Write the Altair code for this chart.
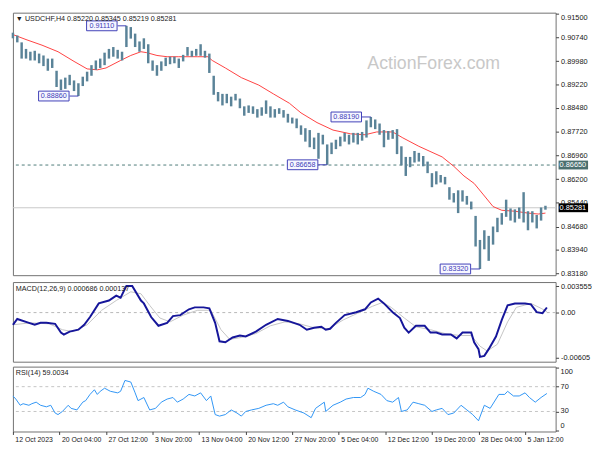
import altair as alt
import pandas as pd

# ---------------- data ----------------
STEP = 3  # bar index step (H4 bars)
hi = [0.9089, 0.9080, 0.9058, 0.9037, 0.9028, 0.9031, 0.9022, 0.9016, 0.9006, 0.9006,
      0.8967, 0.8939, 0.8945, 0.8954, 0.8936, 0.8927, 0.8948, 0.8964, 0.8985, 0.9000,
      0.9006, 0.9025, 0.9037, 0.9043, 0.9034, 0.9028, 0.9111, 0.9107, 0.9086, 0.9061,
      0.9071, 0.9052, 0.9000, 0.8985, 0.8997, 0.9009, 0.9012, 0.9012, 0.9006, 0.9018,
      0.9043, 0.9031, 0.9037, 0.9052, 0.9031, 0.9022, 0.8951, 0.8899, 0.8893, 0.8893,
      0.8884, 0.8893, 0.8878, 0.8853, 0.8856, 0.8853, 0.8844, 0.8850, 0.8872, 0.8853,
      0.8844, 0.8847, 0.8841, 0.8829, 0.8817, 0.8814, 0.8792, 0.8783, 0.8777, 0.8753,
      0.8768, 0.8762, 0.8731, 0.8737, 0.8746, 0.8756, 0.8768, 0.8762, 0.8768, 0.8768,
      0.8771, 0.8808, 0.8819, 0.8811, 0.8798, 0.8777, 0.8774, 0.8777, 0.8780, 0.8725,
      0.8691, 0.8691, 0.8710, 0.8704, 0.8694, 0.8676, 0.8639, 0.8645, 0.8633, 0.8627,
      0.8594, 0.8575, 0.8584, 0.8584, 0.8566, 0.8548, 0.8502, 0.8425, 0.8456, 0.8438,
      0.8468, 0.8496, 0.8511, 0.8554, 0.8526, 0.8523, 0.8529, 0.8578, 0.8517, 0.8517,
      0.8505, 0.8529, 0.85345]
lo = [0.9071, 0.9058, 0.9006, 0.9006, 0.9000, 0.9000, 0.8991, 0.8982, 0.8967, 0.8976,
      0.8915, 0.8905, 0.8909, 0.8921, 0.8902, 0.8886, 0.8918, 0.8933, 0.8951, 0.8970,
      0.8976, 0.8985, 0.9006, 0.9012, 0.9006, 0.9000, 0.9043, 0.9070, 0.9043, 0.9028,
      0.9037, 0.8991, 0.8967, 0.8951, 0.8967, 0.8982, 0.8988, 0.8991, 0.8976, 0.8997,
      0.9015, 0.9012, 0.9015, 0.9015, 0.9009, 0.8960, 0.8890, 0.8869, 0.8856, 0.8863,
      0.8853, 0.8872, 0.8847, 0.8823, 0.8832, 0.8829, 0.8817, 0.8823, 0.8829, 0.8817,
      0.8817, 0.8829, 0.8817, 0.8801, 0.8798, 0.8783, 0.8762, 0.8740, 0.8722, 0.8716,
      0.8685, 0.8731, 0.86658, 0.8700, 0.8716, 0.8725, 0.8740, 0.8731, 0.8737, 0.8731,
      0.8743, 0.8753, 0.8786, 0.8780, 0.8762, 0.8722, 0.8746, 0.8749, 0.8700, 0.8664,
      0.8630, 0.8658, 0.8673, 0.8676, 0.8661, 0.8639, 0.8594, 0.8603, 0.8609, 0.8603,
      0.8554, 0.8545, 0.8511, 0.8548, 0.8538, 0.8523, 0.8404, 0.8332, 0.8395, 0.8358,
      0.8410, 0.8450, 0.8474, 0.8499, 0.8487, 0.8481, 0.8493, 0.8481, 0.8456, 0.8481,
      0.8462, 0.8487, 0.85219]
bar_idx = [i * STEP for i in range(len(hi))]

sma_idx = [0, 9, 20, 31, 42, 51, 58, 64, 74, 81, 88, 92, 99, 106, 114, 127, 134, 137, 146, 157,
           169, 179, 190, 198, 209, 220, 232, 242, 250, 261, 268, 279, 295, 303, 310, 317, 323,
           330, 336, 345, 354, 361, 366]
sma_val = [0.9083, 0.9067, 0.9049, 0.9028, 0.8997, 0.8973, 0.8970, 0.8976, 0.9000, 0.9016,
           0.9028, 0.9025, 0.9016, 0.9012, 0.9012, 0.9012, 0.9012, 0.9000, 0.8976, 0.8945,
           0.8921, 0.8893, 0.8863, 0.8832, 0.8801, 0.8777, 0.8765, 0.8762, 0.8771, 0.8771,
           0.8752, 0.8725, 0.8691, 0.8661, 0.8630, 0.8606, 0.8572, 0.8532, 0.8520, 0.8517,
           0.8511, 0.8508, 0.8511]

ann_idx = [78, 45, 246, 216, 321]
ann_price = [0.9111, 0.8886, 0.8819, 0.86658, 0.8332]
ann_text = ["0.91110", "0.88860", "0.88190", "0.86658", "0.83320"]

level_price = 0.8665
last_close = 0.85281
tag_price = [0.8665, 0.85281]
tag_text = ["0.86650", "0.85281"]
tag_fill = ["#4b6f6f", "#000000"]

price_ticks = [0.915, 0.9074, 0.8998, 0.8922, 0.8848, 0.8772, 0.8696, 0.862, 0.8544,
               0.8468, 0.8394, 0.8318]

macd_idx = [0, 3, 11, 15, 19, 23, 29, 33, 35, 39, 45, 49, 53, 59, 66, 71, 74, 78, 82, 88, 90,
            95, 100, 106, 110, 115, 121, 125, 131, 135, 139, 142, 146, 151, 156, 160, 167, 174,
            182, 189, 197, 202, 207, 212, 215, 218, 222, 228, 236, 242, 246, 251, 255, 261,
            266, 269, 272, 277, 283, 287, 291, 295, 301, 305, 309, 315, 317, 320, 321, 324,
            327, 332, 336, 340, 345, 352, 356, 360, 364, 367]
macd_val = [-0.00164, -0.00086, -0.00138, -0.00164, -0.00138, -0.00138, -0.00151, -0.00269,
            -0.00295, -0.00256, -0.00230, -0.00164, -0.00060, 0.00123, 0.00162, 0.00227,
            0.00201, 0.00358, 0.00358, 0.00162, 0.00123, -0.00060, -0.00177, -0.00138,
            -0.00047, -0.00034, 0.00044, 0.00070, 0.00070, 0.00057, -0.00138, -0.00386,
            -0.00399, -0.00334, -0.00308, -0.00321, -0.00256, -0.00164, -0.00086, -0.00112,
            -0.00164, -0.00230, -0.00204, -0.00191, -0.00230, -0.00217, -0.00138, -0.00034,
            0.00005, 0.00044, 0.00136, 0.00188, 0.00123, 0.00005, -0.00073, -0.00204,
            -0.00269, -0.00177, -0.00177, -0.00269, -0.00269, -0.00295, -0.00295, -0.00347,
            -0.00269, -0.00269, -0.00399, -0.00491, -0.00595, -0.00582, -0.00491, -0.00321,
            -0.00099, 0.00097, 0.00123, 0.00123, 0.00110, 0.00005, -0.00008, 0.000686]

sig_idx = [0, 12, 25, 34, 41, 51, 61, 71, 81, 88, 94, 101, 108, 117, 127, 136, 143, 149, 157,
           167, 177, 187, 197, 207, 217, 227, 237, 247, 254, 260, 269, 277, 287, 297, 307, 315,
           321, 326, 333, 340, 346, 356, 363, 367]
sig_val = [-0.00164, -0.00138, -0.00151, -0.00230, -0.00256, -0.00164, 0.00031, 0.00162,
           0.00279, 0.00253, 0.00097, -0.00073, -0.00125, -0.00034, 0.00031, 0.00031,
           -0.00230, -0.00360, -0.00334, -0.00282, -0.00177, -0.00125, -0.00151, -0.00204,
           -0.00217, -0.00099, -0.00008, 0.00084, 0.00136, 0.00070, -0.00073, -0.00191,
           -0.00230, -0.00282, -0.00308, -0.00308, -0.00451, -0.00517, -0.00425, -0.00125,
           0.00070, 0.00123, 0.00057, 0.000137]

rsi_idx = [0, 2, 5, 7, 11, 13, 16, 19, 23, 26, 29, 31, 34, 38, 40, 44, 48, 50, 53, 56, 58, 60,
           63, 67, 72, 74, 77, 81, 84, 86, 90, 94, 98, 102, 106, 110, 113, 117, 121, 125, 129,
           133, 136, 139, 142, 146, 150, 154, 157, 160, 164, 169, 174, 179, 182, 186, 189, 194,
           200, 205, 208, 214, 215, 220, 225, 229, 234, 239, 242, 244, 248, 253, 257, 261, 265,
           267, 271, 275, 279, 283, 288, 291, 295, 299, 303, 308, 312, 316, 320, 322, 324, 328,
           334, 338, 340, 344, 348, 352, 355, 359, 363, 367]
rsi_val = [55, 50, 40, 42.5, 40, 42.5, 45, 40, 37.5, 40, 27.5, 25, 30, 40, 35, 32.5, 45, 47.5,
           57.5, 65, 57.5, 62.5, 67.5, 62.5, 60, 62.5, 80, 77.5, 60, 47.5, 52.5, 32.5, 35, 45,
           50, 52.5, 45, 50, 57.5, 55, 60, 47.5, 55, 25, 22.5, 25, 32.5, 27.5, 22.5, 30, 32.5,
           35, 40, 42.5, 40, 45, 37.5, 32.5, 27.5, 20, 35, 45, 30, 40, 45, 50, 52.5, 52.5, 57.5,
           67.5, 62.5, 57.5, 47.5, 45, 52.5, 30, 32.5, 45, 42.5, 40, 30, 32.5, 35, 25, 27.5,
           40, 32.5, 25, 15, 27.5, 40, 35, 57.5, 57.5, 62.5, 55, 55, 60, 52.5, 45, 52.5, 59.0]
rsi_ticks = [100, 70, 30, 0]
rsi_tick_text = ["100", "70", "30", "0"]

x_tick_idx = [0, 32, 64, 96, 128, 160, 192, 224, 256, 288, 320, 352]
x_tick_text = ["12 Oct 2023", "20 Oct 04:00", "27 Oct 12:00", "3 Nov 20:00", "13 Nov 04:00",
               "20 Nov 12:00", "27 Nov 20:00", "5 Dec 04:00", "12 Dec 12:00", "19 Dec 20:00",
               "28 Dec 04:00", "5 Jan 12:00"]

# ---------------- layout / style ----------------
W = 552
H_MAIN = 267
H_MACD = 81
H_RSI = 66
FONT = "Liberation Sans"
BAR = "#5a8398"
ANN = "#4040b8"

BOX_PATH = "M-1.55,-0.5L1.55,-0.5L1.55,0.5L-1.55,0.5Z"   # 31 x 10 px at size 400
CONN_PATH = "M-0.9,0L0,0"                                # 9 px connector at size 400
TAG_PATH = "M0,-0.45L3,-0.45L3,0.45L0,0.45Z"             # 30 x 9 px at size 400

xscale = alt.Scale(domain=[0, 373], nice=False, zero=False)
yprice = alt.Scale(domain=[0.83121, 0.91531], nice=False, zero=False)


def X(field="idx:Q"):
    return alt.X(field, scale=xscale, axis=None)


price_axis = alt.Axis(orient="right", values=price_ticks, format=".5f", title="",
                      labelFlush=True, labelOverlap=False)


def Yp(field):
    return alt.Y(field, scale=yprice, axis=price_axis)


bars_df = pd.DataFrame({"idx": bar_idx, "hi": hi, "lo": lo})
sma_df = pd.DataFrame({"idx": sma_idx, "v": sma_val})
ann_df = pd.DataFrame({"idx": ann_idx, "p": ann_price, "t": ann_text})
tag_df = pd.DataFrame({"p": tag_price, "t": tag_text, "f": tag_fill})
lvl_df = pd.DataFrame({"p": [level_price]})
cls_df = pd.DataFrame({"p": [last_close]})

cur_line = alt.Chart(cls_df).mark_rule(color="#c8c8c8", strokeWidth=1).encode(
    y=Yp("p:Q"))
lvl_line = alt.Chart(lvl_df).mark_rule(color="#4d7a78", strokeDash=[3, 3], strokeWidth=1).encode(
    y=Yp("p:Q"))
bars = alt.Chart(bars_df).mark_rule(color=BAR, strokeWidth=2.5).encode(
    x=X(), y=Yp("lo:Q"), y2="hi:Q")
sma = alt.Chart(sma_df).mark_line(color="#ff4040", strokeWidth=1).encode(
    x=X(), y=Yp("v:Q"))

ann_conn = alt.Chart(ann_df).mark_point(shape=CONN_PATH, size=400, filled=False, stroke=ANN,
                                        strokeWidth=1, opacity=1).encode(
    x=X(), y=Yp("p:Q"))
ann_box = alt.Chart(ann_df).mark_point(shape=BOX_PATH, size=400, xOffset=-25, filled=True,
                                       fill="#f6f6ff", stroke=ANN, strokeWidth=1,
                                       opacity=1).encode(
    x=X(), y=Yp("p:Q"))
ann_txt = alt.Chart(ann_df).mark_text(dx=-25, font=FONT, fontSize=7.3, color=ANN,
                                      align="center", baseline="middle").encode(
    x=X(), y=Yp("p:Q"), text="t:N")

tag_box = alt.Chart(tag_df).mark_point(shape=TAG_PATH, size=400, filled=True, opacity=1,
                                       strokeWidth=0).encode(
    x=alt.value(W + 3), y=Yp("p:Q"),
    fill=alt.Fill("f:N", scale=None))
tag_txt = alt.Chart(tag_df).mark_text(font=FONT, fontSize=7.5, color="white", align="left",
                                      baseline="middle").encode(
    x=alt.value(W + 4), y=Yp("p:Q"), text="t:N")

title_main = alt.Chart(pd.DataFrame({"t": ["\u25BC USDCHF,H4  0.85220 0.85345 0.85219 0.85281"]})).mark_text(
    font=FONT, fontSize=7.3, color="#202020", align="left", baseline="middle").encode(
    x=alt.value(3), y=alt.value(6), text="t:N")
watermark = alt.Chart(pd.DataFrame({"t": ["ActionForex.com"]})).mark_text(
    font=FONT, fontSize=18, color="#c8c8c8", align="center", baseline="middle").encode(
    x=alt.value(428), y=alt.value(52), text="t:N")

main = alt.layer(cur_line, lvl_line, watermark, sma, bars, ann_conn, ann_box, ann_txt,
                 tag_box, tag_txt, title_main).properties(width=W, height=H_MAIN)

# MACD
ymacd = alt.Scale(domain=[-0.0066, 0.0041], nice=False, zero=False)
macd_axis = alt.Axis(
    orient="right", values=[0.003555, 0.0, -0.00605], title="", labelOverlap=False,
    labelExpr="datum.value == 0 ? '0.00' : (datum.value > 0 ? '0.003555' : '-0.00605')")
macd_df = pd.DataFrame({"idx": macd_idx, "v": macd_val})
sig_df = pd.DataFrame({"idx": sig_idx, "v": sig_val})
zero_line = alt.Chart(pd.DataFrame({"p": [0.0]})).mark_rule(
    color="#b8b8b8", strokeDash=[3, 3], strokeWidth=1).encode(
    y=alt.Y("p:Q", scale=ymacd, axis=macd_axis))
sig_line = alt.Chart(sig_df).mark_line(color="#c4c4c4", strokeWidth=1).encode(
    x=X(), y=alt.Y("v:Q", scale=ymacd, axis=macd_axis))
macd_line = alt.Chart(macd_df).mark_line(color="#16169a", strokeWidth=2).encode(
    x=X(), y=alt.Y("v:Q", scale=ymacd, axis=macd_axis))
macd_title = alt.Chart(pd.DataFrame({"t": ["MACD(12,26,9) 0.000686 0.000137"]})).mark_text(
    font=FONT, fontSize=7.3, color="#202020", align="left", baseline="middle").encode(
    x=alt.value(3), y=alt.value(7), text="t:N")
macd = alt.layer(zero_line, sig_line, macd_line, macd_title).properties(width=W, height=H_MACD)

# RSI
yrsi = alt.Scale(domain=[-2.3, 102.3], nice=False, zero=False)
rsi_axis = alt.Axis(orient="right", values=rsi_ticks, title="", labels=False)
rsi_df = pd.DataFrame({"idx": rsi_idx, "v": rsi_val})
rsi_lab_df = pd.DataFrame({"p": rsi_ticks, "t": rsi_tick_text})
rsi_lv = alt.Chart(pd.DataFrame({"p": [70, 30]})).mark_rule(
    color="#c4c4c4", strokeDash=[3, 3], strokeWidth=1).encode(
    y=alt.Y("p:Q", scale=yrsi, axis=rsi_axis))
rsi_lab_top = alt.Chart(rsi_lab_df).transform_filter("datum.p == 100").mark_text(
    font=FONT, fontSize=7.5, color="#202020", align="left", baseline="top").encode(
    x=alt.value(W + 5), y=alt.Y("p:Q", scale=yrsi, axis=rsi_axis), text="t:N")
rsi_lab_mid = alt.Chart(rsi_lab_df).transform_filter("datum.p > 0 && datum.p < 100").mark_text(
    font=FONT, fontSize=7.5, color="#202020", align="left", baseline="middle").encode(
    x=alt.value(W + 5), y=alt.Y("p:Q", scale=yrsi, axis=rsi_axis), text="t:N")
rsi_lab_bot = alt.Chart(rsi_lab_df).transform_filter("datum.p == 0").mark_text(
    font=FONT, fontSize=7.5, color="#202020", align="left", baseline="bottom").encode(
    x=alt.value(W + 5), y=alt.Y("p:Q", scale=yrsi, axis=rsi_axis), text="t:N")
label_expr = " : ".join(
    "datum.value == %d ? '%s'" % (v, s) for v, s in zip(x_tick_idx, x_tick_text)) + " : ''"
rsi_line = alt.Chart(rsi_df).mark_line(color="#2f95f5", strokeWidth=1).encode(
    x=alt.X("idx:Q", scale=xscale, title="", axis=alt.Axis(
        values=x_tick_idx, labelExpr=label_expr, title="",
        labelAlign="left", labelOffset=2, labelPadding=1, tickSize=3, labelFlush=False,
        labelOverlap=False, labelFontSize=7)),
    y=alt.Y("v:Q", scale=yrsi, axis=rsi_axis))
rsi_title = alt.Chart(pd.DataFrame({"t": ["RSI(14) 59.0034"]})).mark_text(
    font=FONT, fontSize=7.3, color="#202020", align="left", baseline="middle").encode(
    x=alt.value(3), y=alt.value(7), text="t:N")
rsi = alt.layer(rsi_lv, rsi_line, rsi_lab_top, rsi_lab_mid, rsi_lab_bot,
                rsi_title).properties(width=W, height=H_RSI)

chart = alt.vconcat(main, macd, rsi, spacing=3, padding=0).configure_view(
    stroke="#707070", strokeWidth=1
).configure_axis(
    labelFont=FONT, labelFontSize=7.5, labelColor="#202020", tickColor="#404040",
    domain=False, grid=False, tickSize=3, labelPadding=2, labelOverlap=False
)

chart.save("out.html", embed_options={"renderer": "svg", "actions": False})
